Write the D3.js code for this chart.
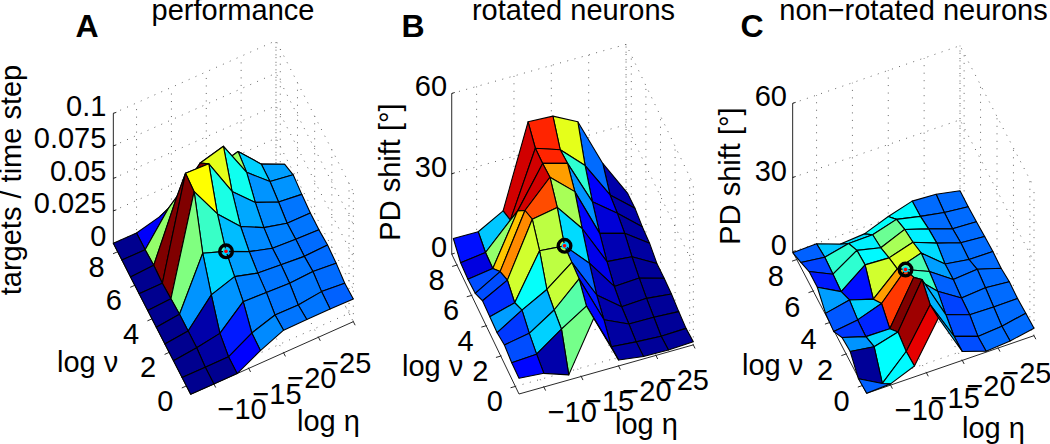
<!DOCTYPE html>
<html><head><meta charset="utf-8">
<style>html,body{margin:0;padding:0;background:#fff}svg{display:block}text{font-family:"Liberation Sans",Arial,sans-serif;fill:#000}</style>
<script src="https://cdn.jsdelivr.net/npm/d3@7/dist/d3.min.js"></script>
</head><body><svg id="c" width="1050" height="444"></svg>
<script>
// grid coordinates of the surfaces
const etaValues=[-1.67,-5,-8.33,-11.67,-15,-18.33,-21.67,-25];
const nuValues=[-0.5,0.5,1.5,2.5,3.5,4.5,5.5,6.5,7.5,8.5];
const etaTicks=[-5,-10,-15,-20,-25];
const etaLabelled=[-10,-15,-20,-25];
const nuTicks=[0,2,4,6,8];
const perfTicks=[0,0.025,0.05,0.075,0.1];
const shiftTicks=[0,30,60];
const optimumEta=-11.67, optimumNu=3.5;

// heights: one row per eta value, one entry per nu value
const perfZ=[
[0,0,0,0,0,0,0,0,0,0],
[0,0,.002,.002,.002,.001,0,.001,0,0],
[0,0,.0051,.0218,.0410,.0754,.0767,.0459,.0238,.0046],
[.0097,.0103,.0215,.0279,.0344,.0503,.0759,.0636,.0333,.0051],
[.0174,.0162,.0205,.0226,.0262,.0326,.0467,.0685,.0387,.0128],
[.0177,.0159,.0197,.0210,.0208,.0238,.0303,.0405,.0436,.0154],
[.0177,.0182,.0208,.0195,.0197,.0192,.0226,.0254,.0259,.0085],
[.0174,.0167,.0192,.0203,.0190,.0190,.0205,.0226,.0179,.0025]];
const rotatedZ=[
[5.9,6.0,7.0,5.9,6.2,6.5,3.6,3.2,3.7,7.1],
[5.1,6.6,8.7,11.7,8.8,11.6,9.1,4.6,4.9,7.0],
[1.9,13.3,14.8,16.8,25.6,31.7,29.3,23.5,14.4,12.2],
[20.4,19.3,23.8,24.3,24.8,33.5,39.1,38.6,38.6,42.8],
[2.2,1.5,5.9,9.5,15.7,23.0,31.1,36.0,35.4,42.3],
[.9,.7,1.7,2.5,4.4,8.0,12.9,19.0,26.9,37.6],
[.7,.2,1.6,3.0,4.9,7.2,10.3,12.1,13.3,19.4],
[1.2,.5,1.1,2,2.2,2.1,4,4.5,5.7,5.6]];
const nonRotatedZ=[
[0,-.5,4.2,3.5,-.5,.5,4.7,4.7,2.0,-.4],
[.5,-5.7,2.8,.5,.9,2.6,-.4,.3,.8,-.1],
[4.4,3.9,5.4,.4,4.2,-.4,7.1,6.6,3.0,-3.6],
[20.5,19.5,23.3,17.8,14.6,8.5,6.6,4.3,3.2,-2.8],
[3.6,3.4,5.8,8.9,10.5,11.6,9.6,8.4,6.1,.9],
[.4,0,2.4,2.8,3.9,3.8,5.9,5.3,4.0,3.8],
[1.2,.8,2.2,3.6,4.7,2.3,2.7,2.0,2.2,3.2],
[3,2.7,2.3,2.7,1.8,2.2,1.9,1.5,1.2,1.3]];

// colour data of the cells (0..1 on the jet map): one row per eta interval, one entry per nu interval
const perfC=[
[0,0,0,0,0,0,0,0,0],
[0,.02,.03,.27,.5,1,1,.52,.12],
[.125,.15,.27,.335,.43,.625,1,.3,.3],
[.26,.25,.25,.28,.31,.4,.6,.4,.4],
[.24,.24,.24,.24,.26,.29,.39,.53,.3],
[.24,.24,.24,.24,.25,.26,.27,.33,.2],
[.22,.23,.23,.23,.24,.24,.27,.28,.3]];
const rotatedC=[
[.13,.2,.18,.28,.17,.2,.2,.09,.14],
[.03,.33,.3,.38,.58,.74,.68,.52,.32],
[.49,.46,.57,.56,.56,.8,.92,.92,.92],
[.1,.13,.15,.22,.34,.54,.72,.84,.84],
[.02,.02,.03,.05,.1,.13,.27,.42,.6],
[.01,.01,.01,.01,.02,.04,.08,.12,.23],
[.01,.01,.01,.01,.01,.02,.02,.03,.03]];
const nonRotatedC=[
[.22,.01,.27,.18,.21,.28,.15,.19,.22],
[.37,.375,.34,.16,.33,.14,.42,.42,.32],
[.9,.97,1,.82,.72,.58,.37,.36,.34],
[.3,.3,.3,.43,.45,.59,.54,.48,.38],
[.2,.2,.19,.22,.28,.34,.36,.38,.37],
[.23,.23,.23,.23,.23,.24,.23,.23,.23],
[.23,.23,.23,.23,.23,.23,.23,.23,.23]];

const jet=d3.scaleLinear().domain([0,1/8,3/8,5/8,7/8,1])
  .range(["#00008f","#0000ff","#00ffff","#ffff00","#ff0000","#800000"]);
const FS=29;
const svg=d3.select("#c");
const fmt=v=>String(v).replace("-","\u2212");

const panels=[
 {z:perfZ,c:perfC,zTicks:perfTicks,zMax:.1,F:[190.67,394.33],R:[353.33,321.67],L:[113.33,243.33],H:130,nuMax:8.5,
  title:"performance",titleX:233,letter:"A",letterX:87,zLabel:"targets / time step",zLabelPos:[20.5,180],
  zText:[-7,2.5],nuText:[-21,25],etaText:[18,51],logNu:[57,372],logEta:[297,431]},
 {z:rotatedZ,c:rotatedC,zTicks:shiftTicks,zMax:60,F:[519,394],R:[693.33,344.87],L:[453.33,257.5],H:160.67,nuMax:8.72,
  title:"rotated neurons",titleX:573.5,letter:"B",letterX:413,zLabel:"PD shift [\u00b0]",zLabelPos:[400,172],
  zText:[-4.7,3],nuText:[-20.5,25],etaText:[15.6,45.5],logNu:[402,375.7],logEta:[615,434]},
 {z:nonRotatedZ,c:nonRotatedC,zTicks:shiftTicks,zMax:60,F:[866.67,393.33],R:[1034,335.67],L:[792.67,251.67],H:148.33,nuMax:8.5,
  title:"non\u2212rotated neurons",titleX:913.5,letter:"C",letterX:752,zLabel:"PD shift [\u00b0]",zLabelPos:[740,176],
  zText:[-5.7,3],nuText:[-21,26],etaText:[17.5,47.5],logNu:[742,375],logEta:[962,438]}
];

panels.forEach(p=>{
  const sE=d3.scaleLinear().domain([etaValues[0],etaValues[7]]).range([0,1]);
  const sN=d3.scaleLinear().domain([nuValues[0],nuValues[9]]).range([0,1]);
  const sZ=d3.scaleLinear().domain([0,p.zMax]).range([0,p.H]);
  const proj=(e,n,z=0)=>[
    p.F[0]+sE(e)*(p.R[0]-p.F[0])+sN(n)*(p.L[0]-p.F[0]),
    p.F[1]+sE(e)*(p.R[1]-p.F[1])+sN(n)*(p.L[1]-p.F[1])-sZ(z)];
  const g=svg.append("g");
  const line=d3.line();
  const eA=etaValues[0],eB=etaValues[7],nA=nuValues[0],nB=p.nuMax,zT=p.zMax;
  const dotted=(pts)=>g.append("path").attr("d",line(pts)).attr("fill","none")
    .attr("stroke","#666").attr("stroke-width",1).attr("stroke-dasharray","1 6.5");
  const solid=(pts,w=.9)=>g.append("path").attr("d",line(pts)).attr("fill","none")
    .attr("stroke","#111").attr("stroke-width",w);

  // floor and wall grid
  etaTicks.forEach(t=>{dotted([proj(t,nA),proj(t,nB),proj(t,nB,zT)]);});
  nuTicks.forEach(t=>{dotted([proj(eA,t),proj(eB,t),proj(eB,t,zT)]);});
  p.zTicks.forEach(t=>{dotted([proj(eA,nB,t),proj(eB,nB,t),proj(eB,nA,t)]);});
  dotted([proj(eB,nB),proj(eB,nB,zT)]);
  dotted([proj(eB,nA),proj(eB,nA,zT)]);

  // axes
  solid([proj(eA,nB),proj(eA,nB,zT)]);
  solid([proj(eA,nB),proj(eA,nA),proj(eB,nA)]);
  const ex=p.R[0]-p.F[0],ey=p.R[1]-p.F[1],nx=p.L[0]-p.F[0],ny=p.L[1]-p.F[1];
  const el=Math.hypot(ex,ey),nl=Math.hypot(nx,ny);
  p.zTicks.forEach(t=>{const a=proj(eA,nB,t);solid([a,[a[0]+3,a[1]-1]]);});
  nuTicks.forEach(t=>{const a=proj(eA,t);solid([a,[a[0]-ex/el*5,a[1]-ey/el*5]]);});
  etaTicks.forEach(t=>{const a=proj(t,nA);solid([a,[a[0]-nx/nl*4,a[1]-ny/nl*4]]);});

  // surface, far cells first
  for(let i=8;i>=0;i--)for(let j=6;j>=0;j--){
    const q=[[j,i],[j+1,i],[j+1,i+1],[j,i+1]].map(([a,b])=>proj(etaValues[a],nuValues[b],p.z[a][b]));
    g.append("path").attr("d",line(q)+"Z").attr("fill",jet(p.c[j][i]))
      .attr("stroke","#000").attr("stroke-width",1.1).attr("stroke-linejoin","round");
  }

  // optimum marker
  const oj=etaValues.indexOf(optimumEta),oi=nuValues.indexOf(optimumNu);
  const m=proj(optimumEta,optimumNu,p.z[oj][oi]);
  g.append("circle").attr("cx",m[0]).attr("cy",m[1]).attr("r",6.3).attr("fill","none").attr("stroke","#000").attr("stroke-width",3.4);
  g.append("circle").attr("cx",m[0]).attr("cy",m[1]).attr("r",3).attr("fill","#00d0ff");
  g.append("circle").attr("cx",m[0]).attr("cy",m[1]).attr("r",1.8).attr("fill","#ff0000");

  // text
  const txt=(s,x,y,anchor="start",size=FS,weight="normal")=>g.append("text").attr("x",x).attr("y",y)
    .attr("text-anchor",anchor).attr("font-size",size).attr("font-weight",weight).text(s);
  txt(p.title,p.titleX,20,"middle");
  txt(p.letter,p.letterX,36.5,"middle",32,"bold");
  p.zTicks.forEach(t=>{const a=proj(eA,nB,t);txt(fmt(t),a[0]+p.zText[0],a[1]+p.zText[1],"end");});
  nuTicks.forEach(t=>{const a=proj(eA,t);txt(fmt(t),a[0]+p.nuText[0],a[1]+p.nuText[1],"middle");});
  etaLabelled.forEach(t=>{const a=proj(t,nA);txt(fmt(t),a[0]+p.etaText[0],a[1]+p.etaText[1],"end");});
  txt("log \u03bd",p.logNu[0],p.logNu[1]);
  txt("log \u03b7",p.logEta[0],p.logEta[1]);
  g.append("text").attr("transform",`translate(${p.zLabelPos[0]},${p.zLabelPos[1]}) rotate(-90)`)
    .attr("text-anchor","middle").attr("font-size",FS).text(p.zLabel);
});
</script></body></html>
